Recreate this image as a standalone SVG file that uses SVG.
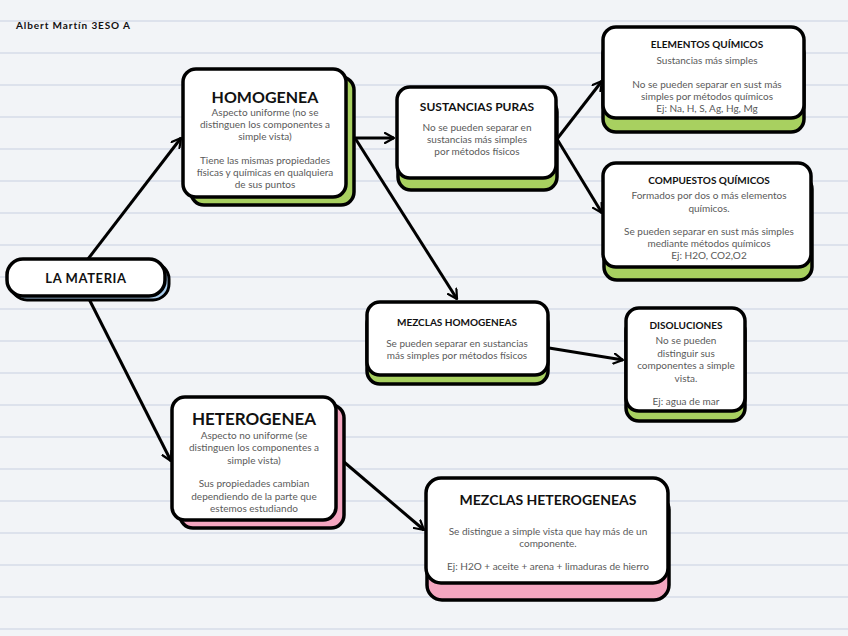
<svg xmlns="http://www.w3.org/2000/svg" width="848" height="636" viewBox="0 0 848 636">
<defs>
<style>
.bg{fill:#f2f4f7}
.rule{stroke:#d6dde9;stroke-width:1.3}
.card{fill:#ffffff;stroke:#000;stroke-width:3.5}
.sh-g{fill:#a8d060;stroke:#000;stroke-width:3.5}
.sh-p{fill:#f4a6c0;stroke:#000;stroke-width:3.5}
.sh-b{fill:#a9cdec;stroke:#000;stroke-width:3}
.t{font-family:Lato,"Open Sans","DejaVu Sans",sans-serif;font-weight:bold;fill:#111;text-anchor:middle}
.b{font-family:Lato,"Open Sans","DejaVu Sans",sans-serif;font-size:10px;fill:#5a5a5a;text-anchor:middle}
.con{stroke:#000;stroke-width:3;fill:none;marker-end:url(#ah)}
</style>
<marker id="ah" viewBox="0 0 12 12" refX="10" refY="6" markerWidth="4" markerHeight="4" orient="auto" markerUnits="strokeWidth">
<path d="M1,1 L10,6 L1,11" fill="none" stroke="#000" stroke-width="2.2" stroke-linecap="round" stroke-linejoin="round"/>
</marker>
</defs>
<rect class="bg" x="0" y="0" width="848" height="636"/>
<g id="rules">
<line class="rule" x1="0" y1="21" x2="848" y2="21"/>
<line class="rule" x1="0" y1="53" x2="848" y2="53"/>
<line class="rule" x1="0" y1="85" x2="848" y2="85"/>
<line class="rule" x1="0" y1="117" x2="848" y2="117"/>
<line class="rule" x1="0" y1="149" x2="848" y2="149"/>
<line class="rule" x1="0" y1="181" x2="848" y2="181"/>
<line class="rule" x1="0" y1="213" x2="848" y2="213"/>
<line class="rule" x1="0" y1="245" x2="848" y2="245"/>
<line class="rule" x1="0" y1="277" x2="848" y2="277"/>
<line class="rule" x1="0" y1="309" x2="848" y2="309"/>
<line class="rule" x1="0" y1="341" x2="848" y2="341"/>
<line class="rule" x1="0" y1="373" x2="848" y2="373"/>
<line class="rule" x1="0" y1="405" x2="848" y2="405"/>
<line class="rule" x1="0" y1="437" x2="848" y2="437"/>
<line class="rule" x1="0" y1="469" x2="848" y2="469"/>
<line class="rule" x1="0" y1="501" x2="848" y2="501"/>
<line class="rule" x1="0" y1="533" x2="848" y2="533"/>
<line class="rule" x1="0" y1="565" x2="848" y2="565"/>
<line class="rule" x1="0" y1="597" x2="848" y2="597"/>
<line class="rule" x1="0" y1="629" x2="848" y2="629"/>
</g>
<text x="16" y="29" font-family="Lato,'DejaVu Sans',sans-serif" font-weight="bold" font-size="10" letter-spacing="0.9" fill="#111">Albert Martín 3ESO A</text>

<g id="connectors">
<line class="con" x1="88" y1="259" x2="181" y2="138"/>
<line class="con" x1="88" y1="297" x2="171" y2="461"/>
<line class="con" x1="355" y1="138" x2="394" y2="138"/>
<line class="con" x1="355" y1="138" x2="457" y2="299"/>
<line class="con" x1="557" y1="139" x2="602" y2="81"/>
<line class="con" x1="557" y1="139" x2="602" y2="213"/>
<line class="con" x1="549" y1="348" x2="623" y2="360"/>
<line class="con" x1="344" y1="462" x2="424" y2="530"/>
</g>

<g id="la-materia">
<rect class="sh-b" x="11" y="263" width="158" height="37" rx="16"/>
<rect class="card" x="7" y="259" width="158" height="37" rx="16"/>
<text class="t" x="86" y="283" font-size="13" letter-spacing="0.6">LA MATERIA</text>
</g>

<g id="homogenea">
<rect class="sh-g" x="191" y="77" width="163" height="128" rx="13"/>
<rect class="card" x="183" y="69" width="163" height="128" rx="13"/>
<text class="t" x="265" y="103" font-size="16">HOMOGENEA</text>
<text class="b" x="265" y="116">Aspecto uniforme (no se</text>
<text class="b" x="265" y="128">distinguen los componentes a</text>
<text class="b" x="265" y="140">simple vista)</text>
<text class="b" x="265" y="164">Tiene las mismas propiedades</text>
<text class="b" x="265" y="176">físicas y químicas en qualquiera</text>
<text class="b" x="265" y="188">de sus puntos</text>
</g>

<g id="sustancias-puras">
<rect class="sh-g" x="398" y="99" width="159" height="91" rx="13"/>
<rect class="card" x="397" y="87" width="159" height="91" rx="13"/>
<text class="t" x="477" y="111" font-size="12">SUSTANCIAS PURAS</text>
<text class="b" x="477" y="131">No se pueden separar en</text>
<text class="b" x="477" y="143">sustancias más simples</text>
<text class="b" x="477" y="155">por métodos físicos</text>
</g>

<g id="elementos-quimicos">
<rect class="sh-g" x="603" y="41" width="201" height="91" rx="13"/>
<rect class="card" x="603" y="27" width="201" height="91" rx="13"/>
<text class="t" x="707" y="48" font-size="10">ELEMENTOS QUÍMICOS</text>
<text class="b" x="707" y="64">Sustancias más simples</text>
<text class="b" x="707" y="88">No se pueden separar en sust más</text>
<text class="b" x="707" y="100">simples por métodos químicos</text>
<text class="b" x="707" y="112">Ej: Na, H, S, Ag, Hg, Mg</text>
</g>

<g id="compuestos-quimicos">
<rect class="sh-g" x="604" y="176" width="208" height="104" rx="13"/>
<rect class="card" x="603" y="163" width="208" height="104" rx="13"/>
<text class="t" x="709" y="184" font-size="10">COMPUESTOS QUÍMICOS</text>
<text class="b" x="709" y="199">Formados por dos o más elementos</text>
<text class="b" x="709" y="212">químicos.</text>
<text class="b" x="709" y="235">Se pueden separar en sust más simples</text>
<text class="b" x="709" y="247">mediante métodos químicos</text>
<text class="b" x="709" y="259">Ej: H2O, CO2,O2</text>
</g>

<g id="mezclas-homogeneas">
<rect class="sh-g" x="367" y="311" width="181" height="73" rx="13"/>
<rect class="card" x="367" y="302" width="181" height="73" rx="13"/>
<text class="t" x="457" y="326" font-size="10">MEZCLAS HOMOGENEAS</text>
<text class="b" x="457" y="347">Se pueden separar en sustancias</text>
<text class="b" x="457" y="359">más simples por métodos físicos</text>
</g>

<g id="disoluciones">
<rect class="sh-g" x="626" y="318" width="119" height="103" rx="13"/>
<rect class="card" x="626" y="308" width="119" height="103" rx="13"/>
<text class="t" x="686" y="329" font-size="10">DISOLUCIONES</text>
<text class="b" x="686" y="344">No se pueden</text>
<text class="b" x="686" y="357">distinguir sus</text>
<text class="b" x="686" y="369">componentes a simple</text>
<text class="b" x="686" y="382">vista.</text>
<text class="b" x="686" y="405">Ej: agua de mar</text>
</g>

<g id="heterogenea">
<rect class="sh-p" x="180" y="405" width="164" height="123" rx="13"/>
<rect class="card" x="172" y="397" width="164" height="123" rx="13"/>
<text class="t" x="254" y="425" font-size="17">HETEROGENEA</text>
<text class="b" x="254" y="439">Aspecto no uniforme (se</text>
<text class="b" x="254" y="451">distinguen los componentes a</text>
<text class="b" x="254" y="464">simple vista)</text>
<text class="b" x="254" y="487">Sus propiedades cambian</text>
<text class="b" x="254" y="500">dependiendo de la parte que</text>
<text class="b" x="254" y="512">estemos estudiando</text>
</g>

<g id="mezclas-heterogeneas">
<rect class="sh-p" x="427" y="495" width="242" height="105" rx="15"/>
<rect class="card" x="426" y="478" width="242" height="105" rx="15"/>
<text class="t" x="548" y="505" font-size="14">MEZCLAS HETEROGENEAS</text>
<text class="b" x="548" y="535">Se distingue a simple vista que hay más de un</text>
<text class="b" x="548" y="547">componente.</text>
<text class="b" x="548" y="570">Ej: H2O + aceite + arena + limaduras de hierro</text>
</g>
</svg>
